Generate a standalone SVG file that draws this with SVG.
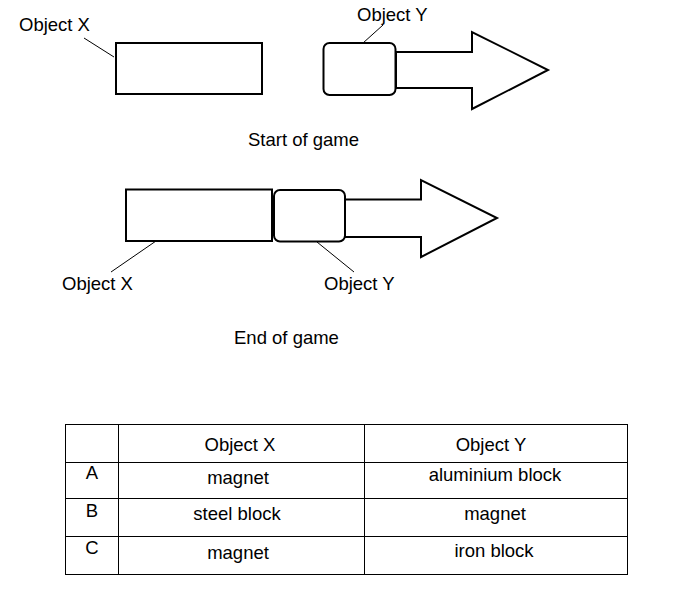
<svg xmlns="http://www.w3.org/2000/svg" width="682" height="591" viewBox="0 0 682 591">
<style>
text{font-family:"Liberation Sans",Arial,sans-serif;font-size:18.5px;fill:#000}
.c{text-anchor:middle}
.shape{fill:#fff;stroke:#000;stroke-width:2}
.lead{stroke:#000;stroke-width:1;fill:none}
.tbl{stroke:#000;stroke-width:1;fill:none}
</style>
<rect width="682" height="591" fill="#fff"/>
<g id="start-x">
<rect class="shape" x="116" y="43" width="146" height="51"/>
<text x="19" y="30.5">Object X</text>
</g>
<g id="start-y">
<polygon class="shape" points="396,52 472,52 472,32 548,70 472,109 472,88 396,88"/>
<rect class="shape" x="323.5" y="43" width="72" height="52" rx="6"/>
<text x="357" y="20.5">Object Y</text>
</g>
<text x="248" y="146">Start of game</text>
<g id="end-x">
<rect class="shape" x="126" y="189.5" width="146" height="51.5"/>
<text x="62" y="290">Object X</text>
</g>
<g id="end-y">
<polygon class="shape" points="345,199.5 421,199.5 421,180 497,218 421,257 421,237 345,237"/>
<rect class="shape" x="274" y="190" width="71" height="51.5" rx="6"/>
<text x="324" y="290">Object Y</text>
</g>
<text x="234" y="344">End of game</text>
<g id="connectors">
<line class="lead" x1="84" y1="38" x2="114" y2="57"/>
<line class="lead" x1="383" y1="25" x2="363" y2="43"/>
<line class="lead" x1="156" y1="241" x2="111" y2="272"/>
<line class="lead" x1="317" y1="242" x2="354" y2="272"/>
</g>
<g id="table">
<rect class="tbl" x="65.5" y="424.5" width="562" height="150"/>
<line class="tbl" x1="118.5" y1="424.5" x2="118.5" y2="574.5"/>
<line class="tbl" x1="364.5" y1="424.5" x2="364.5" y2="574.5"/>
<line class="tbl" x1="65.5" y1="462.5" x2="627.5" y2="462.5"/>
<line class="tbl" x1="65.5" y1="498.5" x2="627.5" y2="498.5"/>
<line class="tbl" x1="65.5" y1="536.5" x2="627.5" y2="536.5"/>
<text class="c" x="240" y="451">Object X</text>
<text class="c" x="491" y="451">Object Y</text>
<text class="c" x="92" y="479">A</text>
<text class="c" x="238" y="484">magnet</text>
<text class="c" x="495" y="481">aluminium block</text>
<text class="c" x="92" y="517">B</text>
<text class="c" x="237" y="520">steel block</text>
<text class="c" x="495" y="520">magnet</text>
<text class="c" x="92" y="554">C</text>
<text class="c" x="238" y="559">magnet</text>
<text class="c" x="494" y="557">iron block</text>
</g>
</svg>
